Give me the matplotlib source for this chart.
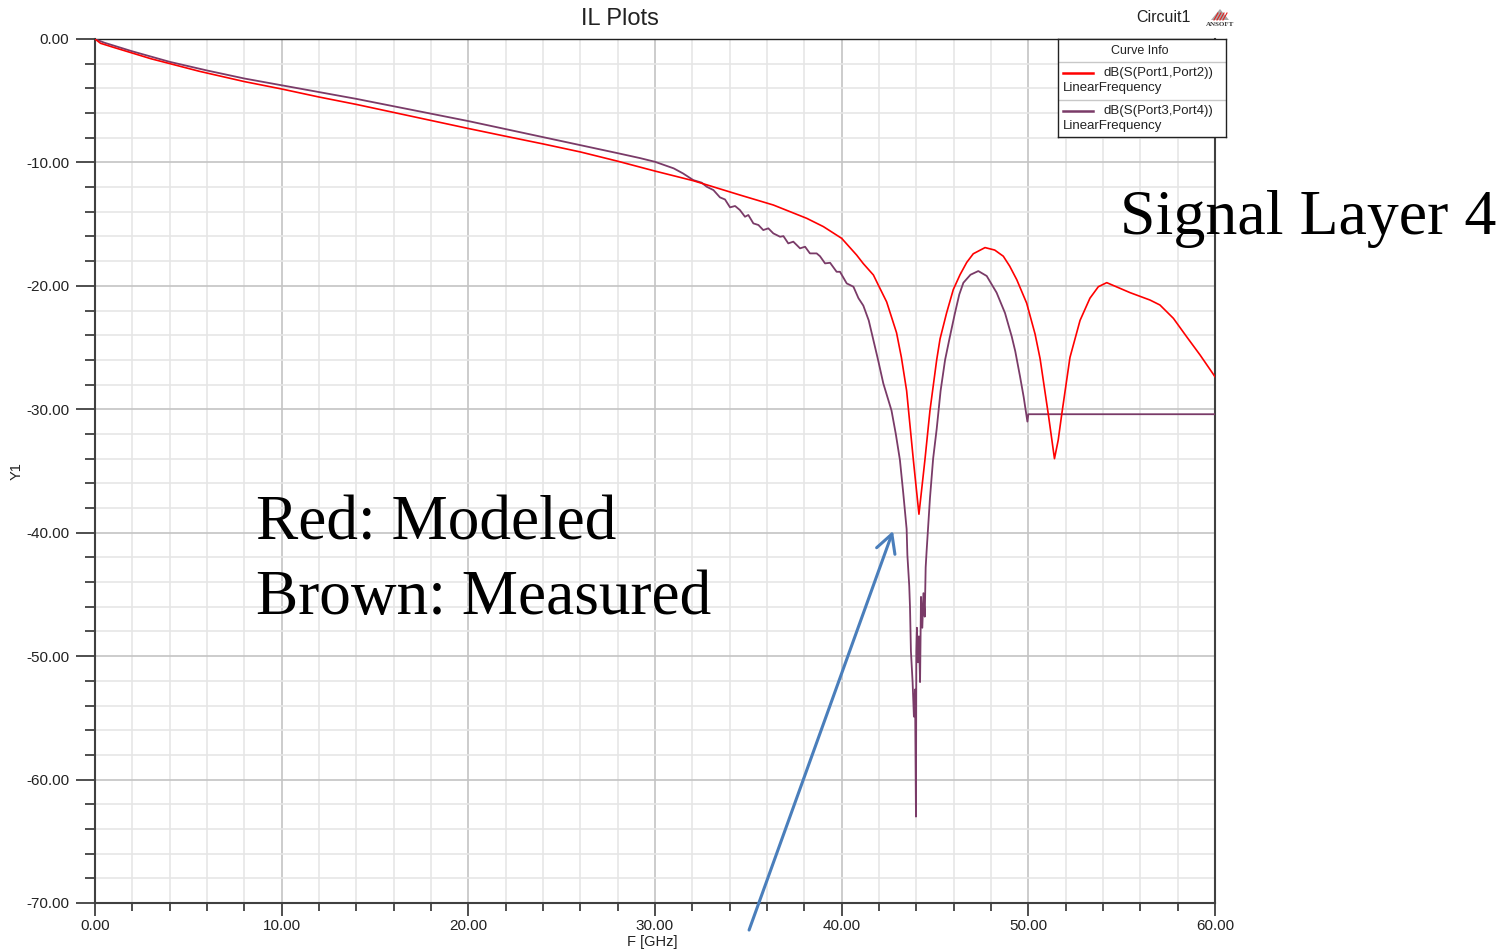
import matplotlib
matplotlib.use("Agg")
import matplotlib.pyplot as plt
from matplotlib.ticker import MultipleLocator, FixedLocator
from matplotlib.patches import Polygon

# ---------------- data ----------------
model_f = [0, 0.3, 1, 3, 5.6, 8, 10, 12, 14, 16, 18, 20, 22, 24, 26, 28, 30,
           32.05, 34.55, 36.34, 38.13, 39.02, 40.0, 40.8, 41.16, 41.7, 42.05, 42.41,
           42.94, 43.2, 43.48, 43.84, 44.14, 44.46, 44.73, 45.09, 45.27, 45.62, 45.98,
           46.34, 46.7, 47.05, 47.68, 48.2, 48.66, 49.0, 49.38, 49.91, 50.36, 50.63,
           51.07, 51.4, 51.6, 51.79, 52.23, 52.77, 53.3, 53.75, 54.2, 55.45, 56.52,
           57.05, 57.77, 58.48, 59.2, 60.0]
model_db = [0, -0.35, -0.68, -1.6, -2.62, -3.45, -4.05, -4.7, -5.3, -5.95, -6.6,
            -7.25, -7.88, -8.5, -9.15, -9.9, -10.7, -11.48, -12.64, -13.45, -14.53,
            -15.2, -16.15, -17.5, -18.2, -19.12, -20.2, -21.3, -23.8, -25.8, -28.5,
            -34.1, -38.5, -34.1, -30.1, -26.0, -24.3, -22.2, -20.3, -19.1, -18.1,
            -17.4, -16.9, -17.1, -17.6, -18.4, -19.5, -21.4, -23.9, -25.9, -30.4,
            -34.0, -32.5, -30.4, -25.8, -22.8, -21.0, -20.07, -19.74, -20.55, -21.15,
            -21.55, -22.63, -24.12, -25.6, -27.36]

meas_f = [0, 0.5, 2, 4, 6, 8, 10, 12, 14, 16, 18, 20, 22, 24, 26, 28, 29.2, 30, 31,
          31.5, 32.05, 32.5, 32.77, 33.13, 33.48, 33.75, 34.02, 34.29, 34.55, 34.82,
          35.0, 35.27, 35.54, 35.8, 36.07, 36.34, 36.7, 36.88, 37.14, 37.41, 37.77,
          38.04, 38.3, 38.66, 38.84, 39.11, 39.38, 39.73, 39.91, 40.27, 40.63, 40.9,
          41.16, 41.45, 41.7, 41.95, 42.23, 42.45, 42.67, 42.9, 43.12, 43.3, 43.48,
          43.52, 43.62, 43.66, 43.71, 43.8, 43.87, 43.93, 43.98, 44.0, 44.03, 44.09,
          44.14, 44.2, 44.25, 44.32, 44.38, 44.45, 44.5, 44.55, 44.73, 44.9, 45.09,
          45.3, 45.54, 45.8, 46.07, 46.3, 46.52, 46.9, 47.32, 47.77, 48.3, 48.75,
          49.11, 49.3, 49.55, 49.75, 49.95, 50.0, 60.0]
meas_db = [0, -0.3, -1.0, -1.85, -2.55, -3.2, -3.75, -4.3, -4.85, -5.45, -6.05,
           -6.65, -7.3, -7.95, -8.6, -9.25, -9.65, -9.95, -10.48, -10.89, -11.43,
           -11.64, -11.97, -12.24, -12.83, -13.0, -13.64, -13.53, -13.86, -14.4,
           -14.26, -14.94, -15.07, -15.48, -15.34, -15.75, -16.02, -15.97, -16.56,
           -16.42, -16.96, -16.83, -17.37, -17.37, -17.6, -18.18, -18.13, -18.86,
           -18.86, -19.8, -20.07, -21.0, -21.6, -22.8, -24.4, -26.0, -27.9, -29.0,
           -30.1, -32.0, -34.1, -36.8, -39.7, -41.8, -44.3, -46.0, -49.6, -52.1,
           -54.9, -52.7, -63.0, -49.6, -47.7, -50.5, -48.4, -52.1, -45.2, -47.7,
           -44.9, -46.8, -42.8, -41.5, -37.2, -34.0, -31.6, -28.5, -26.0, -24.1,
           -22.2, -20.7, -19.75, -19.1, -18.8, -19.2, -20.55, -22.2, -24.1, -25.3,
           -27.3, -29.0, -31.0, -30.4, -30.4]

x_ticks = [0, 10, 20, 30, 40, 50, 60]
y_ticks = [0, -10, -20, -30, -40, -50, -60, -70]
legend_names = ["dB(S(Port1,Port2))", "dB(S(Port3,Port4))"]

RED = "#ff0000"
BROWN = "#7a3b68"
W, H = 1511, 950

plt.rcParams['font.family'] = ['Liberation Sans', 'DejaVu Sans']

fig = plt.figure(figsize=(W / 100, H / 100), dpi=100)
fig.patch.set_facecolor("white")
ax = fig.add_axes([95 / W, 1 - 903 / H, 1120 / W, 864 / H])

ax.plot(model_f, model_db, color=RED, lw=1.2, zorder=4)
ax.plot(meas_f, meas_db, color=BROWN, lw=1.3, zorder=3)

ax.set_xlim(0, 60)
ax.set_ylim(-70, 0)
ax.xaxis.set_major_locator(FixedLocator(x_ticks))
ax.yaxis.set_major_locator(FixedLocator(y_ticks))
ax.xaxis.set_minor_locator(MultipleLocator(2))
ax.yaxis.set_minor_locator(MultipleLocator(2))
ax.set_xticklabels([f"{v:.2f}" for v in x_ticks])
ax.set_yticklabels([f"{v:.2f}" for v in y_ticks])

ax.grid(which='minor', color='#e6e6e6', lw=1.2, zorder=0)
ax.grid(which='major', color='#c4c4c4', lw=1.2, zorder=0)
ax.set_axisbelow(True)

ax.tick_params(axis='y', which='major', direction='out', length=13.5, width=1.2,
               color='#303030', labelsize=11, pad=5, labelcolor='#222222')
ax.tick_params(axis='y', which='minor', direction='out', length=7, width=1.2, color='#303030')
ax.tick_params(axis='x', which='major', direction='out', length=9.5, width=1.2,
               color='#303030', labelsize=11, pad=2, labelcolor='#222222')
ax.tick_params(axis='x', which='minor', direction='out', length=6, width=1.2, color='#303030')

for s in ['left', 'bottom', 'right']:
    ax.spines[s].set_color('#404040')
    ax.spines[s].set_linewidth(1.5)
ax.spines['top'].set_color('#202020')
ax.spines['top'].set_linewidth(1.0)

ax.set_xlabel("F [GHz]", fontsize=10.5, labelpad=0, color='#222222')
ax.xaxis.set_label_coords((652 - 95) / 1120, -(949 - 903) / 864)
ax.xaxis.label.set_va('bottom')
ax.set_ylabel("Y1", fontsize=10.5, color='#222222')
ax.yaxis.set_label_coords(-71 / 1120, 0.5)

# arrow
ax.annotate('', xy=(42.75, -39.86), xytext=(35.04, -72.19),
            arrowprops=dict(arrowstyle='->,head_length=0.65,head_width=0.35',
                            mutation_scale=20, color='#4a7ebb', lw=2.2,
                            shrinkA=0, shrinkB=0),
            annotation_clip=False, zorder=6)

# big annotations
serif = ['Liberation Serif', 'DejaVu Serif']
fig.text(256 / W, 1 - 539 / H, "Red: Modeled", family=serif, fontsize=45.5,
         va='baseline', ha='left')
fig.text(256 / W, 1 - 614 / H, "Brown: Measured", family=serif, fontsize=45.5,
         va='baseline', ha='left')
fig.text(1120 / W, 1 - 234 / H, "Signal Layer 4", family=serif, fontsize=46,
         va='baseline', ha='left', zorder=10)

# titles
fig.text(620 / W, 1 - 19 / H, "IL Plots", fontsize=17, ha='center', va='center',
         color='#222222')
fig.text(1163 / W, 1 - 18 / H, "Circuit1", fontsize=11.5, ha='center', va='center',
         color='#222222')

# ANSOFT logo
lg = fig.add_axes([1200 / W, 1 - 30 / H, 40 / W, 22 / H])
lg.set_xlim(1200, 1240)
lg.set_ylim(30, 8)
lg.axis('off')
lg.add_patch(Polygon([(1211, 20), (1220, 9), (1229, 20)], closed=True,
                     facecolor='#a8a8a8', edgecolor='none'))
for k in range(4):
    lg.plot([1214 + 3 * k, 1218 + 3 * k], [20, 13], color='#e02020', lw=0.8)
lg.text(1220, 25, "ANSOFT", fontsize=5, family=serif, weight='bold',
        ha='center', va='center', color='#333333')

# legend box
lax = fig.add_axes([1058 / W, 1 - 137 / H, 168 / W, 98 / H], zorder=8)
lax.set_xlim(1058, 1226)
lax.set_ylim(137, 39)
lax.set_xticks([])
lax.set_yticks([])
lax.set_facecolor('white')
for s in lax.spines.values():
    s.set_color('#222222')
    s.set_linewidth(1.0)
lax.text(1140, 51, "Curve Info", fontsize=9, ha='center', va='center', color='#222222')
lax.plot([1058, 1226], [62, 62], color='#c8c8c8', lw=1.0)
lax.plot([1058, 1226], [100, 100], color='#c8c8c8', lw=1.0)
for (yy, col, name) in [(73, RED, legend_names[0]), (111, BROWN, legend_names[1])]:
    lax.plot([1063, 1093], [yy, yy], color=col, lw=1.8)
    lax.text(1103, yy, name, fontsize=9.5, ha='left', va='center', color='#222222')
    lax.text(1063, yy + 15, "LinearFrequency", fontsize=9.5, ha='left', va='center',
             color='#222222')

fig.savefig("out.png", dpi=100)
